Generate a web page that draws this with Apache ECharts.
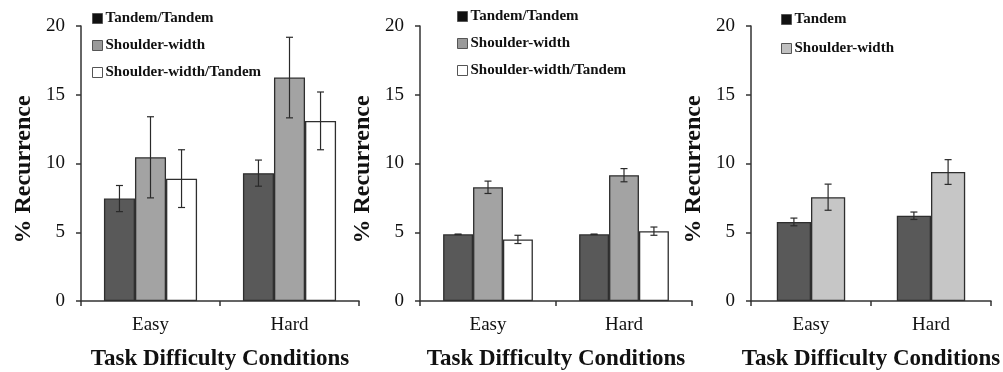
<!DOCTYPE html>
<html>
<head>
<meta charset="utf-8">
<script src="https://cdn.jsdelivr.net/npm/echarts@6/dist/echarts.min.js"></script>
<style>
  html, body { margin: 0; padding: 0; background: #fff; }
  #chart { width: 1003px; height: 372px; }
</style>
</head>
<body>
<div id="chart"></div>
<script>
// ---------- data ----------
const categories = ['Easy', 'Hard'];
const yTicks = [0, 5, 10, 15, 20];

// Panel 1
const p1Names = ['Tandem/Tandem', 'Shoulder-width', 'Shoulder-width/Tandem'];
const p1TandemTandem = [7.45, 9.3];
const p1TandemTandemErr = [0.95, 0.95];
const p1Shoulder = [10.45, 16.25];
const p1ShoulderErr = [2.95, 2.93];
const p1ShoulderTandem = [8.9, 13.1];
const p1ShoulderTandemErr = [2.1, 2.1];

// Panel 2
const p2Names = ['Tandem/Tandem', 'Shoulder-width', 'Shoulder-width/Tandem'];
const p2TandemTandem = [4.85, 4.85];
const p2TandemTandemErr = [0.02, 0.02];
const p2Shoulder = [8.27, 9.15];
const p2ShoulderErr = [0.45, 0.48];
const p2ShoulderTandem = [4.48, 5.08];
const p2ShoulderTandemErr = [0.3, 0.3];

// Panel 3
const p3Names = ['Tandem', 'Shoulder-width'];
const p3Tandem = [5.75, 6.2];
const p3TandemErr = [0.28, 0.27];
const p3Shoulder = [7.55, 9.38];
const p3ShoulderErr = [0.95, 0.9];

// ---------- style ----------
const FONT = "'Liberation Serif', 'Times New Roman', serif";
const DARK = '#595959';
const MID = '#a3a3a3';
const LIGHT = '#c6c6c6';
const WHITE = '#ffffff';
const EDGE = '#2e2e2e';

const panels = [
  { left: 81, width: 278, gap: 33, names: p1Names,
    values: [p1TandemTandem, p1Shoulder, p1ShoulderTandem],
    errs: [p1TandemTandemErr, p1ShoulderErr, p1ShoulderTandemErr],
    colors: [DARK, MID, WHITE],
    legendIcons: ['#111111', '#9a9a9a', '#ffffff'],
    legendLeft: 92, legendTop: 11, legendGap: 12 },
  { left: 420, width: 272, gap: 34, names: p2Names,
    values: [p2TandemTandem, p2Shoulder, p2ShoulderTandem],
    errs: [p2TandemTandemErr, p2ShoulderErr, p2ShoulderTandemErr],
    colors: [DARK, MID, WHITE],
    legendIcons: ['#111111', '#9a9a9a', '#ffffff'],
    legendLeft: 457, legendTop: 9, legendGap: 12 },
  { left: 751, width: 240, gap: 43, names: p3Names,
    values: [p3Tandem, p3Shoulder],
    errs: [p3TandemErr, p3ShoulderErr],
    colors: [DARK, LIGHT],
    legendIcons: ['#111111', '#c0c0c0'],
    legendLeft: 781, legendTop: 12, legendGap: 14 }
];

const grid = [], xAxis = [], yAxis = [], series = [], legend = [];

panels.forEach((p, pi) => {
  grid.push({ left: p.left, width: p.width, top: 26, height: 275,
    containLabel: false, outerBoundsMode: 'none' });
  xAxis.push({
    type: 'category', gridIndex: pi, data: categories,
    name: 'Task Difficulty Conditions', nameLocation: 'middle', nameGap: 47,
    nameTextStyle: { fontFamily: FONT, fontWeight: 'bold', fontSize: 23, color: '#111' },
    axisLine: { lineStyle: { color: '#333', width: 1.5 } },
    axisTick: { show: true, length: 5, lineStyle: { color: '#333', width: 1.5 } },
    axisLabel: { fontFamily: FONT, fontSize: 19, color: '#111', margin: 15 }
  });
  yAxis.push({
    type: 'value', gridIndex: pi, min: 0, max: 20, interval: 5,
    name: '% Recurrence', nameLocation: 'middle', nameGap: 45, nameRotate: 90,
    nameTextStyle: { fontFamily: FONT, fontWeight: 'bold', fontSize: 24, color: '#111',
      padding: [0, 12, 0, 0] },
    axisLine: { show: true, lineStyle: { color: '#333', width: 1.5 } },
    axisTick: { show: true, length: 5, lineStyle: { color: '#333', width: 1.5 } },
    splitLine: { show: false },
    axisLabel: { fontFamily: FONT, fontSize: 19, color: '#111', margin: 16,
      formatter: v => (yTicks.indexOf(v) >= 0 ? String(v) : '') }
  });
  const n = p.values.length;
  p.values.forEach((vals, si) => {
    series.push({
      type: 'bar', name: p.names[si], xAxisIndex: pi, yAxisIndex: pi,
      data: vals, barGap: '0%', barCategoryGap: p.gap + '%',
      itemStyle: { color: p.colors[si], borderColor: EDGE, borderWidth: 1.3 },
      emphasis: { disabled: true }, animation: false
    });
  });
  // error bars
  p.values.forEach((vals, si) => {
    const errData = vals.map((v, ci) => [ci, v, p.errs[si][ci]]);
    series.push({
      type: 'custom', name: p.names[si] + ' error', xAxisIndex: pi, yAxisIndex: pi,
      data: errData, z: 10, animation: false, silent: true,
      renderItem: function (params, api) {
        const ci = api.value(0), v = api.value(1), e = api.value(2);
        const band = api.size([1, 0])[0];
        const groupW = band * (1 - p.gap / 100);
        const barW = groupW / n;
        const c = api.coord([ci, v]);
        const x = c[0] - groupW / 2 + barW * (si + 0.5);
        const yTop = api.coord([ci, v + e])[1];
        const yBot = api.coord([ci, v - e])[1];
        const cap = 3.5;
        const st = { stroke: '#2a2a2a', lineWidth: 1.2 };
        return { type: 'group', children: [
          { type: 'line', shape: { x1: x, y1: yTop, x2: x, y2: yBot }, style: st },
          { type: 'line', shape: { x1: x - cap, y1: yTop, x2: x + cap, y2: yTop }, style: st },
          { type: 'line', shape: { x1: x - cap, y1: yBot, x2: x + cap, y2: yBot }, style: st }
        ]};
      }
    });
  });
  legend.push({
    orient: 'vertical', left: p.legendLeft, top: p.legendTop, padding: 0,
    itemWidth: 10, itemHeight: 10, itemGap: p.legendGap, icon: 'rect',
    selectedMode: false,
    textStyle: { fontFamily: FONT, fontWeight: 'bold', fontSize: 15, color: '#111', lineHeight: 15,
      padding: [0, 0, 0, -2] },
    data: p.names.map((nm, k) => ({
      name: nm,
      itemStyle: { color: p.legendIcons[k], borderColor: '#555', borderWidth: 1 }
    }))
  });
});

const chart = echarts.init(document.getElementById('chart'), null, { renderer: 'canvas' });
chart.setOption({
  backgroundColor: '#ffffff',
  animation: false,
  grid, xAxis, yAxis, series, legend
});
</script>
</body>
</html>
